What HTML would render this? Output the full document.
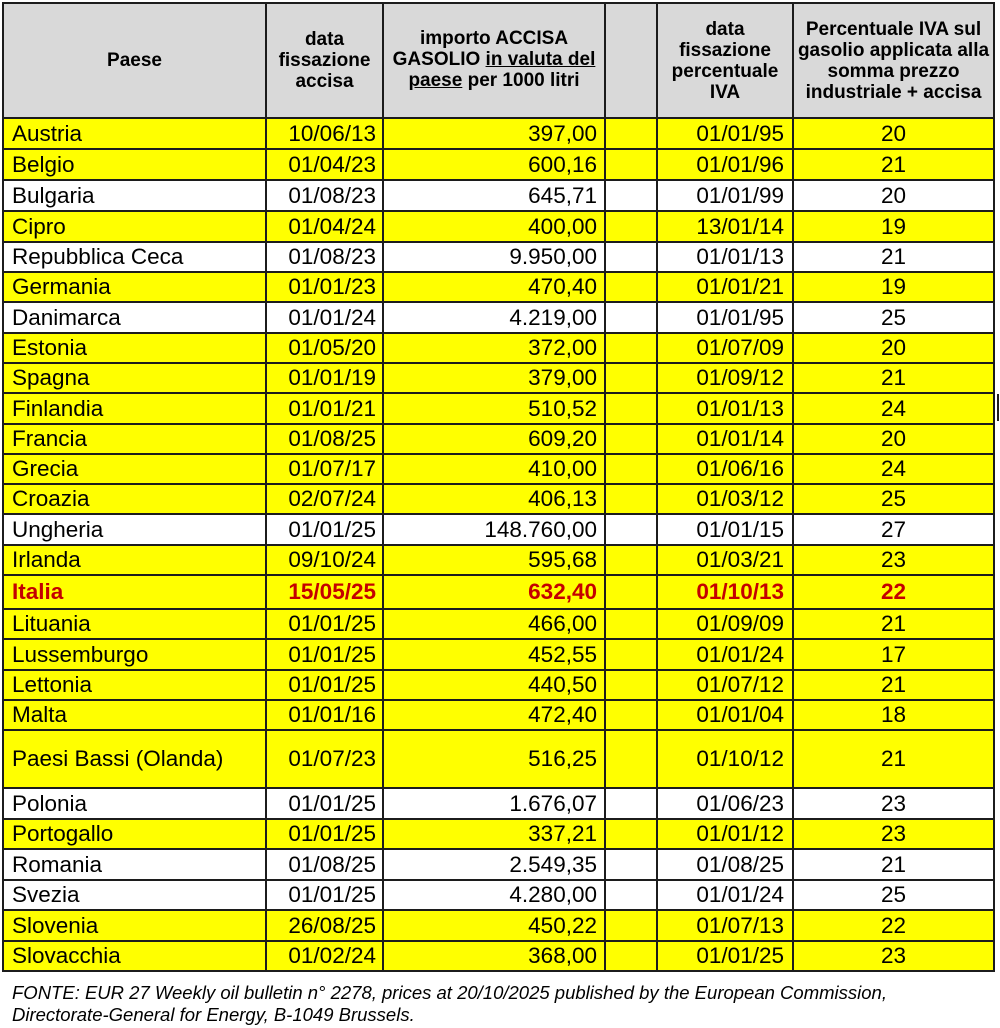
<!DOCTYPE html>
<html>
<head>
<meta charset="utf-8">
<style>
html,body{margin:0;padding:0;background:#fff;}
body{width:1000px;height:1028px;position:relative;overflow:hidden;font-family:"Liberation Sans",Arial,sans-serif;color:#000;}
.r{position:absolute;left:3px;width:991px;background:#ffff00;font-size:22.5px;}
.w{background:#fff;}
.r span{position:absolute;top:0;bottom:0;display:flex;align-items:center;white-space:nowrap;}
.a{left:9px;}
.b{right:618px;}
.c{right:397px;}
.e{right:210px;}
.f{left:790px;width:201px;justify-content:center;}
.it{color:#c40000;font-weight:bold;}
.hd{position:absolute;left:3px;top:3px;width:991px;height:115px;background:#d9d9d9;}
.h{position:absolute;top:0;height:115px;display:flex;align-items:center;justify-content:center;text-align:center;font-weight:bold;font-size:19px;line-height:21px;}
.h > div{display:block;white-space:nowrap;}
.v{position:absolute;top:2px;height:970px;width:2px;background:#1c1c1c;}
.hl{position:absolute;left:2px;width:993px;height:2px;background:#1c1c1c;}
.ft{position:absolute;left:12px;top:982px;font-style:italic;font-size:18.5px;line-height:22px;white-space:nowrap;}
</style>
</head>
<body>
<div class="hd">
  <div class="h" style="left:0;width:263px;"><div>Paese</div></div>
  <div class="h" style="left:263px;width:117px;"><div>data<br>fissazione<br>accisa</div></div>
  <div class="h" style="left:380px;width:222px;top:-1px;"><div>importo ACCISA<br>GASOLIO <u>in valuta del</u><br><u>paese</u> per 1000 litri</div></div>
  <div class="h" style="left:654px;width:136px;"><div>data<br>fissazione<br>percentuale<br>IVA</div></div>
  <div class="h" style="left:790px;width:201px;"><div>Percentuale IVA sul<br>gasolio applicata alla<br>somma prezzo<br>industriale + accisa</div></div>
</div>

<div class="r" style="top:118px;height:31px;"><span class="a">Austria</span><span class="b">10/06/13</span><span class="c">397,00</span><span class="e">01/01/95</span><span class="f">20</span></div>
<div class="r" style="top:149px;height:31px;"><span class="a">Belgio</span><span class="b">01/04/23</span><span class="c">600,16</span><span class="e">01/01/96</span><span class="f">21</span></div>
<div class="r w" style="top:180px;height:31px;"><span class="a">Bulgaria</span><span class="b">01/08/23</span><span class="c">645,71</span><span class="e">01/01/99</span><span class="f">20</span></div>
<div class="r" style="top:211px;height:31px;"><span class="a">Cipro</span><span class="b">01/04/24</span><span class="c">400,00</span><span class="e">13/01/14</span><span class="f">19</span></div>
<div class="r w" style="top:242px;height:30px;"><span class="a">Repubblica Ceca</span><span class="b">01/08/23</span><span class="c">9.950,00</span><span class="e">01/01/13</span><span class="f">21</span></div>
<div class="r" style="top:272px;height:30px;"><span class="a">Germania</span><span class="b">01/01/23</span><span class="c">470,40</span><span class="e">01/01/21</span><span class="f">19</span></div>
<div class="r w" style="top:302px;height:31px;"><span class="a">Danimarca</span><span class="b">01/01/24</span><span class="c">4.219,00</span><span class="e">01/01/95</span><span class="f">25</span></div>
<div class="r" style="top:333px;height:30px;"><span class="a">Estonia</span><span class="b">01/05/20</span><span class="c">372,00</span><span class="e">01/07/09</span><span class="f">20</span></div>
<div class="r" style="top:363px;height:30px;"><span class="a">Spagna</span><span class="b">01/01/19</span><span class="c">379,00</span><span class="e">01/09/12</span><span class="f">21</span></div>
<div class="r" style="top:393px;height:31px;"><span class="a">Finlandia</span><span class="b">01/01/21</span><span class="c">510,52</span><span class="e">01/01/13</span><span class="f">24</span></div>
<div class="r" style="top:424px;height:30px;"><span class="a">Francia</span><span class="b">01/08/25</span><span class="c">609,20</span><span class="e">01/01/14</span><span class="f">20</span></div>
<div class="r" style="top:454px;height:30px;"><span class="a">Grecia</span><span class="b">01/07/17</span><span class="c">410,00</span><span class="e">01/06/16</span><span class="f">24</span></div>
<div class="r" style="top:484px;height:30px;"><span class="a">Croazia</span><span class="b">02/07/24</span><span class="c">406,13</span><span class="e">01/03/12</span><span class="f">25</span></div>
<div class="r w" style="top:514px;height:31px;"><span class="a">Ungheria</span><span class="b">01/01/25</span><span class="c">148.760,00</span><span class="e">01/01/15</span><span class="f">27</span></div>
<div class="r" style="top:545px;height:30px;"><span class="a">Irlanda</span><span class="b">09/10/24</span><span class="c">595,68</span><span class="e">01/03/21</span><span class="f">23</span></div>
<div class="r it" style="top:575px;height:34px;"><span class="a">Italia</span><span class="b">15/05/25</span><span class="c">632,40</span><span class="e">01/10/13</span><span class="f">22</span></div>
<div class="r" style="top:609px;height:30px;"><span class="a">Lituania</span><span class="b">01/01/25</span><span class="c">466,00</span><span class="e">01/09/09</span><span class="f">21</span></div>
<div class="r" style="top:639px;height:31px;"><span class="a">Lussemburgo</span><span class="b">01/01/25</span><span class="c">452,55</span><span class="e">01/01/24</span><span class="f">17</span></div>
<div class="r" style="top:670px;height:30px;"><span class="a">Lettonia</span><span class="b">01/01/25</span><span class="c">440,50</span><span class="e">01/07/12</span><span class="f">21</span></div>
<div class="r" style="top:700px;height:30px;"><span class="a">Malta</span><span class="b">01/01/16</span><span class="c">472,40</span><span class="e">01/01/04</span><span class="f">18</span></div>
<div class="r" style="top:730px;height:58px;"><span class="a">Paesi Bassi (Olanda)</span><span class="b">01/07/23</span><span class="c">516,25</span><span class="e">01/10/12</span><span class="f">21</span></div>
<div class="r w" style="top:788px;height:31px;"><span class="a">Polonia</span><span class="b">01/01/25</span><span class="c">1.676,07</span><span class="e">01/06/23</span><span class="f">23</span></div>
<div class="r" style="top:819px;height:30px;"><span class="a">Portogallo</span><span class="b">01/01/25</span><span class="c">337,21</span><span class="e">01/01/12</span><span class="f">23</span></div>
<div class="r w" style="top:849px;height:31px;"><span class="a">Romania</span><span class="b">01/08/25</span><span class="c">2.549,35</span><span class="e">01/08/25</span><span class="f">21</span></div>
<div class="r w" style="top:880px;height:30px;"><span class="a">Svezia</span><span class="b">01/01/25</span><span class="c">4.280,00</span><span class="e">01/01/24</span><span class="f">25</span></div>
<div class="r" style="top:910px;height:31px;"><span class="a">Slovenia</span><span class="b">26/08/25</span><span class="c">450,22</span><span class="e">01/07/13</span><span class="f">22</span></div>
<div class="r" style="top:941px;height:30px;"><span class="a">Slovacchia</span><span class="b">01/02/24</span><span class="c">368,00</span><span class="e">01/01/25</span><span class="f">23</span></div>

<!-- vertical lines -->
<div class="v" style="left:2px;"></div>
<div class="v" style="left:265px;"></div>
<div class="v" style="left:382px;"></div>
<div class="v" style="left:604px;"></div>
<div class="v" style="left:656px;"></div>
<div class="v" style="left:792px;"></div>
<div class="v" style="left:993px;"></div>
<div style="position:absolute;left:997px;top:394px;width:2px;height:27px;background:#1c1c1c;"></div>

<!-- horizontal lines -->
<div class="hl" style="top:2px;"></div>
<div class="hl" style="top:117px;"></div>
<div class="hl" style="top:148px;"></div>
<div class="hl" style="top:179px;"></div>
<div class="hl" style="top:210px;"></div>
<div class="hl" style="top:241px;"></div>
<div class="hl" style="top:271px;"></div>
<div class="hl" style="top:301px;"></div>
<div class="hl" style="top:332px;"></div>
<div class="hl" style="top:362px;"></div>
<div class="hl" style="top:392px;"></div>
<div class="hl" style="top:423px;"></div>
<div class="hl" style="top:453px;"></div>
<div class="hl" style="top:483px;"></div>
<div class="hl" style="top:513px;"></div>
<div class="hl" style="top:544px;"></div>
<div class="hl" style="top:574px;"></div>
<div class="hl" style="top:608px;"></div>
<div class="hl" style="top:638px;"></div>
<div class="hl" style="top:669px;"></div>
<div class="hl" style="top:699px;"></div>
<div class="hl" style="top:729px;"></div>
<div class="hl" style="top:787px;"></div>
<div class="hl" style="top:818px;"></div>
<div class="hl" style="top:848px;"></div>
<div class="hl" style="top:879px;"></div>
<div class="hl" style="top:909px;"></div>
<div class="hl" style="top:940px;"></div>
<div class="hl" style="top:970px;"></div>

<div class="ft">FONTE: EUR 27 Weekly oil bulletin n° 2278, prices at 20/10/2025 published by the European Commission,<br>Directorate-General for Energy, B-1049 Brussels.</div>
</body>
</html>
